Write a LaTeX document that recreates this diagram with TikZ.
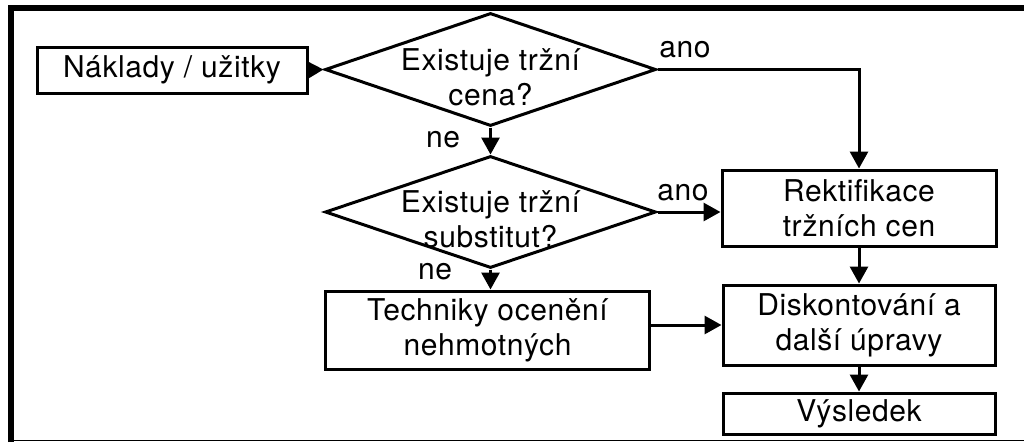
\documentclass[tikz,border=0pt]{standalone}
\usepackage{fontspec}
\setmainfont{TeX Gyre Heros}[LetterSpace=2]
\usetikzlibrary{shapes.geometric,arrows.meta}
\begin{document}
\begin{tikzpicture}[x=1pt,y=-1pt,
  every node/.style={font=\fontsize{30}{35}\selectfont},
  box/.style={draw,line width=3pt,minimum width=#1,inner sep=0pt,align=center},
  dia/.style={draw,diamond,line width=3pt,minimum width=331pt,minimum height=113pt,inner sep=0pt},
  txt/.style={align=center,inner sep=0pt},
  lbl/.style={anchor=base,inner sep=0pt},
  conn/.style={line width=3pt,-{Triangle[length=17pt,width=18pt]}}]
\useasboundingbox (0,0) rectangle (1024,442);
% frame
\draw[line width=6pt] (11,442) -- (11,8) -- (1024,8);
\draw[line width=1.5pt] (14,440.5) -- (1024,440.5);
% nodes
\node[box=270pt,minimum height=46pt] (nak) at (172,70) {Náklady / užitky};
\node[dia] (d1) at (490.5,69.5) {};
\node[txt] (t1) at (490.5,77) {Existuje tržní\\cena?};
\node[dia,minimum height=112pt] (d2) at (490.5,212) {};
\node[txt] (t2) at (490.5,219) {Existuje tržní\\substitut?};
\node[box=274pt,minimum height=76pt] (rek) at (859,208) {Rektifikace\\tržních cen};
\node[box=324pt,minimum height=78pt] (tech) at (487.5,330) {Techniky ocenění\\nehmotných};
\node[box=272pt,minimum height=80pt] (disk) at (859,325) {Diskontování a\\další úpravy};
\node[box=272pt,minimum height=41pt] (vys) at (859,413.5) {Výsledek};
% labels
\node[lbl] (a1) at (685,57) {ano};
\node[lbl] (a2) at (683,200) {ano};
\node[lbl] (n1) at (443,147) {ne};
\node[lbl] (n2) at (435,279) {ne};
% connectors
\draw[conn] (nak.east) -- (d1.west);
\draw[conn] (d1.east) -| (rek.north);
\draw[conn] (d1.south) -- (d2.north);
\draw[conn] (d2.east) -- (d2.east -| rek.west);
\draw[conn] (d2.south) -- (tech.north -| d2.south);
\draw[conn] (disk.west -| tech.east) -- (disk.west);
\draw[conn] (rek.south) -- (disk.north);
\draw[conn] (disk.south) -- (vys.north);
\end{tikzpicture}
\end{document}
